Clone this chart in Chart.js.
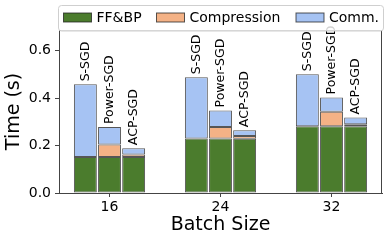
<!DOCTYPE html>
<html>
<head>
<meta charset="utf-8">
<script src="https://cdn.jsdelivr.net/npm/chart.js@4"></script>
<style>
  html, body { margin: 0; padding: 0; background: #fff; }
  #wrap { width: 390px; height: 241px; }
</style>
</head>
<body>
<div id="wrap"><canvas id="timeChart"></canvas></div>
<script>
const batchSizes = ['16', '24', '32'];
const methods = ['S-SGD', 'Power-SGD', 'ACP-SGD'];
const parts = ['FF&BP', 'Compression', 'Comm.'];

// segment heights (s) per batch size
const ffbpS = [0.152, 0.230, 0.281];
const compS = [0, 0, 0];
const commS = [0.306, 0.258, 0.220];

const ffbpP = [0.152, 0.230, 0.281];
const compP = [0.052, 0.048, 0.061];
const commP = [0.074, 0.070, 0.061];

const ffbpA = [0.152, 0.229, 0.281];
const compA = [0.010, 0.011, 0.009];
const commA = [0.027, 0.025, 0.028];

const yTicks = [0.0, 0.2, 0.4, 0.6];

const partColors = ['rgb(75,124,45)', 'rgb(244,178,134)', 'rgb(166,195,243)'];
const edgeColor = 'rgba(30,30,30,0.75)';
const FONT = "'DejaVu Sans', sans-serif";

const seriesByMethod = [
    [ffbpS, compS, commS],
    [ffbpP, compP, commP],
    [ffbpA, compA, commA]
];

const datasets = [];
methods.forEach((m, mi) => {
    parts.forEach((p, pi) => {
        datasets.push({
            label: p,
            stack: m,
            data: seriesByMethod[mi][pi].map((v, i) => ({ x: i, y: v })),
            backgroundColor: partColors[pi],
            borderColor: edgeColor,
            borderWidth: 1,
            borderSkipped: false,
            categoryPercentage: 0.652,
            barPercentage: 0.95
        });
    });
});

// method names written vertically above each bar
const barLabels = {
    id: 'barLabels',
    afterDatasetsDraw(chart) {
        const ctx = chart.ctx;
        ctx.save();
        ctx.font = '12.5px ' + FONT;
        ctx.fillStyle = '#000';
        ctx.textAlign = 'left';
        ctx.textBaseline = 'middle';
        methods.forEach((m, mi) => {
            const meta = chart.getDatasetMeta(mi * parts.length + parts.length - 1);
            meta.data.forEach(bar => {
                ctx.save();
                ctx.translate(bar.x, bar.y - 3);
                ctx.rotate(-Math.PI / 2);
                ctx.fillText(m, 0, 0);
                ctx.restore();
            });
        });
        ctx.restore();
    }
};

// axes frame
const frame = {
    id: 'frame',
    afterDatasetsDraw(chart) {
        const a = chart.chartArea;
        const ctx = chart.ctx;
        ctx.save();
        ctx.strokeStyle = '#444';
        ctx.lineWidth = 1;
        ctx.strokeRect(Math.round(a.left) + 0.5, Math.round(a.top) + 0.5,
            Math.round(a.right - a.left) - 1, Math.round(a.bottom - a.top));
        ctx.restore();
    }
};

// legend box laid over the top of the plot
const boxLegend = {
    id: 'boxLegend',
    afterDraw(chart) {
        const ctx = chart.ctx;
        ctx.save();
        ctx.beginPath();
        ctx.roundRect(58.5, 5.5, 325, 25.5, 3);
        ctx.fillStyle = 'rgba(255,255,255,0.82)';
        ctx.fill();
        ctx.strokeStyle = '#cfcfcf';
        ctx.lineWidth = 1;
        ctx.stroke();
        const handleX = [63.5, 156.5, 296];
        ctx.font = '14px ' + FONT;
        ctx.textBaseline = 'middle';
        ctx.fillStyle = '#000';
        parts.forEach((p, i) => {
            ctx.fillStyle = partColors[i];
            ctx.fillRect(handleX[i], 13, 28, 9);
            ctx.strokeStyle = edgeColor;
            ctx.strokeRect(handleX[i], 13, 28, 9);
            ctx.fillStyle = '#000';
            ctx.fillText(p, handleX[i] + 33, 18);
        });
        ctx.restore();
    }
};

new Chart(document.getElementById('timeChart'), {
    type: 'bar',
    data: { datasets: datasets },
    options: {
        responsive: true,
        maintainAspectRatio: false,
        animation: false,
        layout: { padding: { top: 30, right: 8, left: 0, bottom: 0 } },
        plugins: {
            legend: { display: false },
            tooltip: { enabled: false }
        },
        scales: {
            x: {
                type: 'linear',
                offset: false,
                min: -0.455,
                max: 2.455,
                afterBuildTicks: scale => { scale.ticks = batchSizes.map((b, i) => ({ value: i })); },
                afterFit: scale => { scale.height = 48; },
                ticks: {
                    callback: v => batchSizes[v],
                    color: '#000',
                    font: { family: FONT, size: 14 },
                    padding: 2,
                    maxRotation: 0,
                    autoSkip: false
                },
                grid: { offset: false, drawOnChartArea: false, drawTicks: true, tickLength: 4, color: '#444' },
                border: { display: true, color: '#444' },
                title: {
                    display: true,
                    text: 'Batch Size',
                    color: '#000',
                    font: { family: FONT, size: 19 },
                    padding: { top: 0, bottom: 5 }
                }
            },
            y: {
                stacked: true,
                min: 0,
                max: 0.687,
                afterBuildTicks: scale => { scale.ticks = yTicks.map(v => ({ value: v })); },
                afterFit: scale => { scale.width = 59; },
                ticks: {
                    callback: v => v.toFixed(1),
                    color: '#000',
                    font: { family: FONT, size: 14 },
                    padding: 4
                },
                grid: { drawOnChartArea: false, drawTicks: true, tickLength: 4, color: '#444' },
                border: { display: true, color: '#444' },
                title: {
                    display: true,
                    text: 'Time (s)',
                    color: '#000',
                    font: { family: FONT, size: 19 },
                    padding: { top: 3, bottom: 0 }
                }
            }
        }
    },
    plugins: [frame, barLabels, boxLegend]
});
</script>
</body>
</html>
